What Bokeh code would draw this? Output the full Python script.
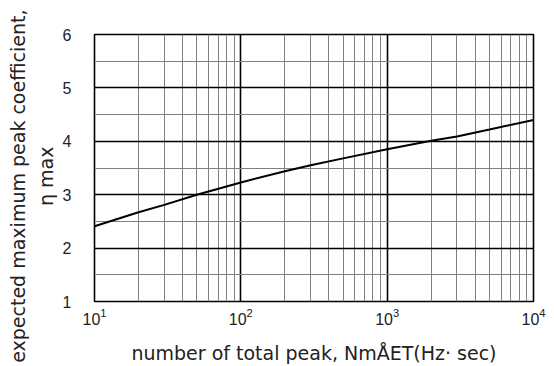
from bokeh.plotting import figure
from bokeh.models import Range1d, FixedTicker, Title
from bokeh.embed import file_html
from bokeh.resources import INLINE

# data
n_peaks = [10, 20, 30, 50, 100, 200, 300, 500, 1000, 2000, 3000, 5000, 10000]
eta_max = [2.41, 2.67, 2.81, 3.00, 3.23, 3.44, 3.55, 3.68, 3.85, 4.01, 4.09, 4.22, 4.40]

x_major = [10, 100, 1000, 10000]
x_minor = [m * d for d in (10, 100, 1000) for m in range(2, 10)]
y_major = [1, 2, 3, 4, 5, 6]
y_minor = [1.5, 2.5, 3.5, 4.5, 5.5]

FONT = "Liberation Sans"
TFONT = "DejaVu Sans"
TXT = "#222222"

p = figure(width=546, height=366, x_axis_type="log",
           x_range=Range1d(10, 10000), y_range=Range1d(1, 6),
           output_backend="svg", toolbar_location=None,
           min_border_left=94, min_border_right=13,
           min_border_top=34, min_border_bottom=63)

p.line(n_peaks, eta_max, line_color="black", line_width=2)

p.xaxis.ticker = FixedTicker(ticks=x_major, minor_ticks=x_minor)
p.yaxis.ticker = FixedTicker(ticks=y_major, minor_ticks=y_minor)

for g in (p.xgrid, p.ygrid):
    g.grid_line_color = "black"
    g.grid_line_width = 1.6
    g.grid_line_alpha = 1
    g.minor_grid_line_color = "#808080"
    g.minor_grid_line_width = 1

p.outline_line_color = "black"
p.outline_line_width = 1.6

for ax in (p.xaxis, p.yaxis):
    ax.axis_line_color = None
    ax.major_tick_line_color = None
    ax.minor_tick_line_color = None
    ax.major_label_text_font = FONT
    ax.major_label_text_font_size = "16px"
    ax.major_label_text_color = TXT
    ax.axis_label_text_font = TFONT
    ax.axis_label_text_font_style = "normal"
    ax.axis_label_text_color = TXT
    ax.axis_label_text_font_size = "19px"

p.xaxis.major_label_standoff = 0
p.yaxis.major_label_standoff = 17
p.xaxis.axis_label = "number of total peak, NmÅET(Hz· sec)"
p.xaxis.axis_label_standoff = 14

# second line of the y title, nearer the axis
t2 = Title(text="η max", align="right", offset=112,
           text_font=TFONT, text_font_size="19px", text_font_style="normal",
           text_color=TXT, standoff=6)
p.add_layout(t2, "left")
# first line of the y title, outermost
t1 = Title(text="expected maximum peak coefficient,", align="right", offset=-25,
           text_font=TFONT, text_font_size="19px", text_font_style="normal",
           text_color=TXT, standoff=2)
p.add_layout(t1, "left")

open("out.html", "w").write(file_html(p, INLINE))
